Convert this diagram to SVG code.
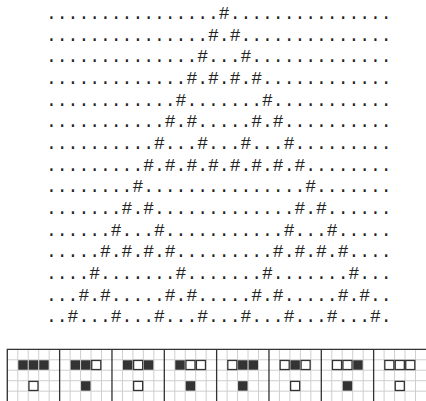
<svg xmlns="http://www.w3.org/2000/svg" width="426" height="401" viewBox="0 0 426 401">
<style>
.row{font-family:"Liberation Mono","Courier New",monospace;font-size:18px;fill:#222}
.on{fill:#333}
.off{fill:#fff;stroke:#333;stroke-width:1.3}
.grid{stroke:#cfcfcf;stroke-width:1;fill:none}
.sep{stroke:#333;stroke-width:1.3;fill:none}
</style>
<rect width="426" height="401" fill="#fff"/>
<g id="evolution">
<text class="row" x="46" y="19">................#...............</text>
<text class="row" x="46" y="40.66">...............#.#..............</text>
<text class="row" x="46" y="62.32">..............#...#.............</text>
<text class="row" x="46" y="83.98">.............#.#.#.#............</text>
<text class="row" x="46" y="105.64">............#.......#...........</text>
<text class="row" x="46" y="127.3">...........#.#.....#.#..........</text>
<text class="row" x="46" y="148.96">..........#...#...#...#.........</text>
<text class="row" x="46" y="170.62">.........#.#.#.#.#.#.#.#........</text>
<text class="row" x="46" y="192.28">........#...............#.......</text>
<text class="row" x="46" y="213.94">.......#.#.............#.#......</text>
<text class="row" x="46" y="235.6">......#...#...........#...#.....</text>
<text class="row" x="46" y="257.26">.....#.#.#.#.........#.#.#.#....</text>
<text class="row" x="46" y="278.92">....#.......#.......#.......#...</text>
<text class="row" x="46" y="300.58">...#.#.....#.#.....#.#.....#.#..</text>
<text class="row" x="46" y="322.24">..#...#...#...#...#...#...#...#.</text>
</g>
<g id="rule-grid">
<path class="grid" d="M7.3 349.3V401M17.77 349.3V401M28.23 349.3V401M38.7 349.3V401M49.17 349.3V401M70.1 349.3V401M80.57 349.3V401M91.03 349.3V401M101.5 349.3V401M122.43 349.3V401M132.9 349.3V401M143.37 349.3V401M153.83 349.3V401M174.77 349.3V401M185.23 349.3V401M195.7 349.3V401M206.17 349.3V401M227.1 349.3V401M237.57 349.3V401M248.03 349.3V401M258.5 349.3V401M279.43 349.3V401M289.9 349.3V401M300.37 349.3V401M310.83 349.3V401M331.77 349.3V401M342.23 349.3V401M352.7 349.3V401M363.17 349.3V401M384.1 349.3V401M394.57 349.3V401M405.03 349.3V401M415.5 349.3V401M7.3 359.77H426M7.3 370.23H426M7.3 380.7H426M7.3 391.17H426"/>
<path class="sep" d="M7.3 401V349.3H426M59.63 349.3V401M111.97 349.3V401M164.3 349.3V401M216.63 349.3V401M268.97 349.3V401M321.3 349.3V401M373.63 349.3V401"/>
</g>
<defs>
<rect id="b" width="9.47" height="9.47" class="on"/>
<rect id="w" width="9.07" height="9.07" class="off"/>
</defs>
<g id="rule-111" transform="translate(7.3 349.3)">
<use href="#b" x="10.97" y="10.97"/><use href="#b" x="21.43" y="10.97"/><use href="#b" x="31.9" y="10.97"/>
<use href="#w" x="21.63" y="32.1"/>
</g>
<g id="rule-110" transform="translate(59.63 349.3)">
<use href="#b" x="10.97" y="10.97"/><use href="#b" x="21.43" y="10.97"/><use href="#w" x="32.1" y="11.17"/>
<use href="#b" x="21.43" y="31.9"/>
</g>
<g id="rule-101" transform="translate(111.97 349.3)">
<use href="#b" x="10.97" y="10.97"/><use href="#w" x="21.63" y="11.17"/><use href="#b" x="31.9" y="10.97"/>
<use href="#w" x="21.63" y="32.1"/>
</g>
<g id="rule-100" transform="translate(164.3 349.3)">
<use href="#b" x="10.97" y="10.97"/><use href="#w" x="21.63" y="11.17"/><use href="#w" x="32.1" y="11.17"/>
<use href="#b" x="21.43" y="31.9"/>
</g>
<g id="rule-011" transform="translate(216.63 349.3)">
<use href="#w" x="11.17" y="11.17"/><use href="#b" x="21.43" y="10.97"/><use href="#b" x="31.9" y="10.97"/>
<use href="#b" x="21.43" y="31.9"/>
</g>
<g id="rule-010" transform="translate(268.97 349.3)">
<use href="#w" x="11.17" y="11.17"/><use href="#b" x="21.43" y="10.97"/><use href="#w" x="32.1" y="11.17"/>
<use href="#w" x="21.63" y="32.1"/>
</g>
<g id="rule-001" transform="translate(321.3 349.3)">
<use href="#w" x="11.17" y="11.17"/><use href="#w" x="21.63" y="11.17"/><use href="#b" x="31.9" y="10.97"/>
<use href="#b" x="21.43" y="31.9"/>
</g>
<g id="rule-000" transform="translate(373.63 349.3)">
<use href="#w" x="11.17" y="11.17"/><use href="#w" x="21.63" y="11.17"/><use href="#w" x="32.1" y="11.17"/>
<use href="#w" x="21.63" y="32.1"/>
</g>
</svg>
